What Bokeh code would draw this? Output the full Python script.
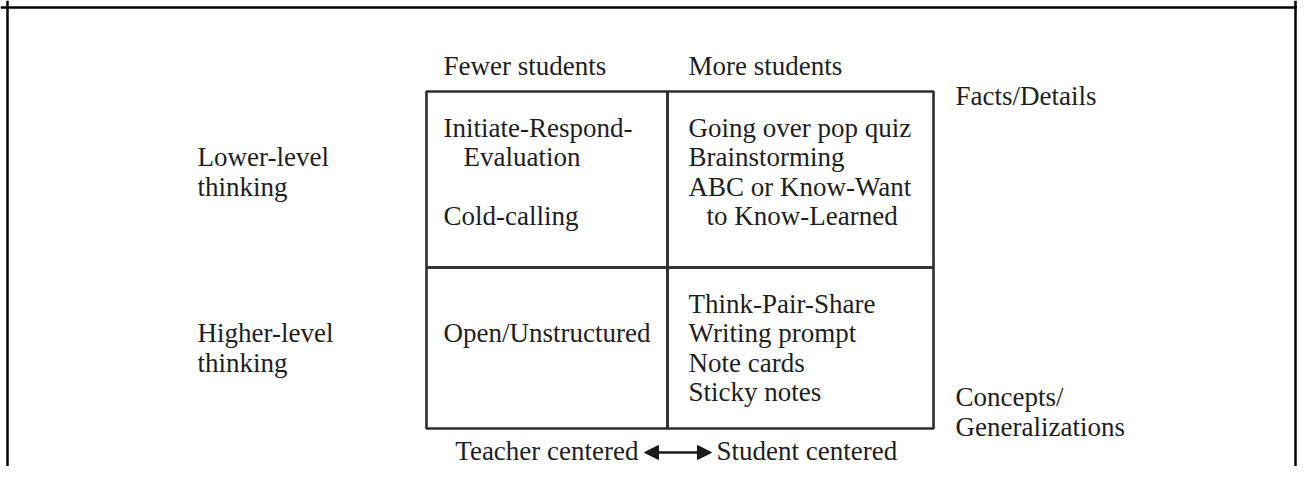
from bokeh.plotting import figure
from bokeh.models import Range1d, ColumnDataSource, Arrow, NormalHead, Span
from bokeh.core.properties import value
from bokeh.embed import file_html
from bokeh.resources import INLINE

# ---------------- data ----------------
column_labels = ["Fewer students", "More students"]
row_labels = [["Lower-level", "thinking"], ["Higher-level", "thinking"]]
right_labels = [["Facts/Details"], ["Concepts/", "Generalizations"]]
cell_upper_left = ["Initiate-Respond-", "Evaluation", "", "Cold-calling"]
cell_upper_right = ["Going over pop quiz", "Brainstorming", "ABC or Know-Want", "to Know-Learned"]
cell_lower_left = ["", "Open/Unstructured", "", ""]
cell_lower_right = ["Think-Pair-Share", "Writing prompt", "Note cards", "Sticky notes"]
axis_left = "Teacher centered"
axis_right = "Student centered"

# ---------------- layout (pixel space) ----------------
W, H = 1297, 466
BOX_X = [426, 667, 933]      # column edges
BOX_Y = [91, 267, 428]       # row edges
TEXT_X = [443, 688]          # text start in each column
LINE_H = 29.3
FIRST = 46
DY = -9.5                    # text baseline correction
INDENT_UL = [0, 20, 0, 0]
INDENT_UR = [0, 0, 0, 18]
FONT = value("Liberation Serif")
FS = "27px"
INK = "#1e1e1e"

p = figure(width=W, height=H, x_range=Range1d(0, W), y_range=Range1d(H, 0),
           output_backend="svg", toolbar_location=None, min_border=0)
p.axis.visible = False
p.grid.visible = False
p.outline_line_color = None
p.background_fill_color = "white"
p.border_fill_color = "white"

# page frame (top, left, right)
p.add_layout(Span(location=7, dimension="height", line_color="black", line_width=2.5))
p.add_layout(Span(location=W - 2, dimension="height", line_color="black", line_width=2.5))
p.add_layout(Span(location=7, dimension="width", line_color="black", line_width=2.5))

# grid cells
left, right, top, bottom = [], [], [], []
for r in range(2):
    for c in range(2):
        left.append(BOX_X[c]); right.append(BOX_X[c + 1])
        top.append(BOX_Y[r]); bottom.append(BOX_Y[r + 1])
p.quad(left=left, right=right, top=top, bottom=bottom, fill_color=None,
       line_color="#2e2e2e", line_width=2.6)

xs, ys, ts, aligns = [], [], [], []

def add(x, y, t, a="left"):
    if t:
        xs.append(x); ys.append(y + DY); ts.append(t); aligns.append(a)

# column headers
for c, lab in enumerate(column_labels):
    add(TEXT_X[c], BOX_Y[0] - 16, lab)

# cells
cells = [[(cell_upper_left, INDENT_UL), (cell_upper_right, INDENT_UR)],
         [(cell_lower_left, [0] * 4), (cell_lower_right, [0] * 4)]]
for r in range(2):
    for c in range(2):
        lines, ind = cells[r][c]
        for k, t in enumerate(lines):
            add(TEXT_X[c] + ind[k], BOX_Y[r] + FIRST + k * LINE_H, t)

# row labels
for r, lines in enumerate(row_labels):
    for k, t in enumerate(lines):
        add(197, BOX_Y[r] + FIRST + (k + 1) * LINE_H, t)

# right-side labels
add(955, BOX_Y[0] + 14, right_labels[0][0])
for k, t in enumerate(right_labels[1]):
    add(955, BOX_Y[2] - 22 + k * 30, t)

# bottom axis labels
BOTTOM_BASE = 460
add(638, BOTTOM_BASE, axis_left, "right")
add(716, BOTTOM_BASE, axis_right, "left")

src = ColumnDataSource(dict(x=xs, y=ys, text=ts, align=aligns))
p.text(x="x", y="y", text="text", source=src, text_font=FONT, text_font_size=FS,
       text_color=INK, text_baseline="alphabetic", text_align="align")

# double-headed arrow
AY = BOTTOM_BASE - 8
head = dict(size=14, fill_color="#1a1a1a", line_color="#1a1a1a", line_width=1)
p.add_layout(Arrow(x_start=644, x_end=711, y_start=AY, y_end=AY,
                   line_color="#1a1a1a", line_width=2.5,
                   start=NormalHead(**head), end=NormalHead(**head)))

open("out.html", "w").write(file_html(p, INLINE))
